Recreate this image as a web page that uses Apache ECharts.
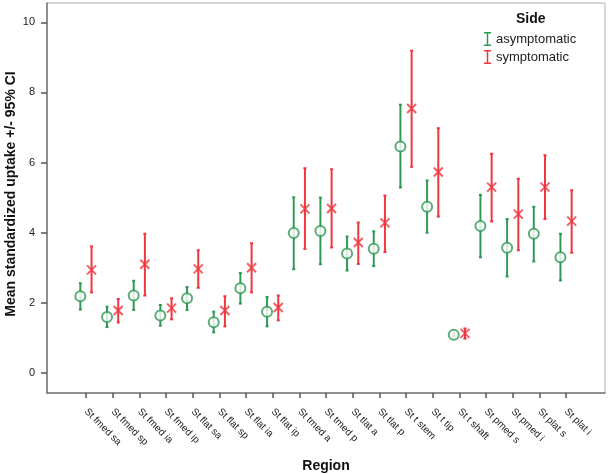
<!DOCTYPE html>
<html><head><meta charset="utf-8">
<script src="https://cdn.jsdelivr.net/npm/echarts@6/dist/echarts.min.js"></script>
<style>html,body{margin:0;padding:0;background:#fff}#c{width:609px;height:474px}</style>
</head><body><div id="c"></div>
<script>
var categories = ["St fmed sa","St fmed sp","St fmed ia","St fmed ip","St flat sa","St flat sp","St flat ia","St flat ip","St tmed a","St tmed p","St tlat a","St tlat p","St t stem","St t tip","St t shaft","St pmed s","St pmed i","St plat s","St plat i"];
var asymMean = [2.19,1.60,2.21,1.64,2.13,1.45,2.42,1.75,3.99,4.05,3.41,3.54,6.46,4.74,1.09,4.19,3.57,3.97,3.30];
var asymLow  = [1.81,1.31,1.80,1.35,1.80,1.16,1.98,1.33,2.96,3.10,2.92,3.05,5.29,4.00,1.05,3.30,2.75,3.18,2.64];
var asymHigh = [2.56,1.89,2.63,1.94,2.45,1.75,2.85,2.17,5.01,5.00,3.89,4.04,7.65,5.49,1.13,5.08,4.39,4.74,3.97];
var symMean  = [2.94,1.78,3.10,1.85,2.97,1.78,3.00,1.87,4.68,4.69,3.72,4.28,7.54,5.73,1.13,5.30,4.53,5.30,4.33];
var symLow   = [2.30,1.44,2.21,1.53,2.43,1.33,2.30,1.50,3.54,3.58,3.11,3.45,5.88,4.46,0.98,4.32,3.50,4.39,3.43];
var symHigh  = [3.61,2.11,3.97,2.13,3.50,2.19,3.70,2.21,5.84,5.81,4.29,5.06,9.19,6.98,1.27,6.25,5.54,6.21,5.21];
var yTicks = [0,2,4,6,8,10];
var yTitle = 'Mean standardized uptake +/- 95% CI';

var GREEN = '#2f9a55', RED = '#f0363f';
var OFF = 0.21;
function idx(){ return categories.map(function(_,i){return i;}); }
function errData(low, high, off){ return categories.map(function(_,i){ return [i+off, low[i], high[i]]; }); }
function meanData(m, off){ return categories.map(function(_,i){ return [i+off, m[i]]; }); }
function errRender(color){
  return function(params, api){
    var x = api.value(0);
    var lo = api.coord([x, api.value(1)]);
    var hi = api.coord([x, api.value(2)]);
    var w = 1.5;
    var st = {stroke: color, lineWidth: 2};
    return {type:'group', children:[
      {type:'line', shape:{x1:lo[0],y1:lo[1],x2:hi[0],y2:hi[1]}, style:st},
      {type:'line', shape:{x1:lo[0]-w,y1:lo[1],x2:lo[0]+w,y2:lo[1]}, style:st},
      {type:'line', shape:{x1:hi[0]-w,y1:hi[1],x2:hi[0]+w,y2:hi[1]}, style:st}
    ]};
  };
}
var iconPath = 'path://M0,0h7v1.5h-2.75v11h2.75v1.5h-7v-1.5h2.75v-11h-2.75z';
var chart = echarts.init(document.getElementById('c'));
chart.setOption({
  animation:false,
  textStyle:{fontFamily:'Liberation Sans, Arial, sans-serif'},
  title:{text:'Side', left:511, top:7, textStyle:{fontSize:14, fontWeight:'bold', color:'#111'}},
  legend:{orient:'vertical', left:479, top:27, itemWidth:7, itemHeight:14, itemGap:4,
    textStyle:{fontSize:13, color:'#222'},
    data:[{name:'asymptomatic', icon:iconPath},{name:'symptomatic', icon:iconPath}]},
  graphic:[{type:'text', x:11, y:194, rotation:Math.PI/2,
    style:{text:yTitle, align:'center', verticalAlign:'middle', fill:'#111',
      font:'bold 14px "Liberation Sans", Arial, sans-serif'}}],
  grid:{left:47, right:4, top:3, bottom:81, show:true, borderColor:'#b0b0b0', borderWidth:1,
    containLabel:false, outerBoundsMode:'none'},
  xAxis:{type:'value', min:-1.46, max:19.46,
    name:'Region', nameLocation:'middle', nameGap:66, nameMoveOverlap:false,
    nameTextStyle:{fontSize:14, fontWeight:'bold', color:'#111'},
    axisLine:{onZero:false, lineStyle:{color:'#777', width:1.5}},
    axisTick:{customValues: idx(), length:5, lineStyle:{color:'#555', width:1.5}},
    axisLabel:{customValues: idx(), rotate:-45, fontSize:10, color:'#222', margin:17,
      formatter:function(v){ return categories[Math.round(v)]; }},
    splitLine:{show:false}},
  yAxis:{type:'value', min:-0.57, max:10.55,
    axisLine:{show:true, onZero:false, lineStyle:{color:'#777', width:1.5}},
    axisTick:{show:true, customValues: yTicks, length:6, lineStyle:{color:'#555', width:1.5}},
    axisLabel:{customValues: yTicks, fontSize:11, color:'#222', margin:12},
    splitLine:{show:false}},
  series:[
    {type:'custom', name:'asymptomatic', renderItem: errRender(GREEN), itemStyle:{color:GREEN},
      encode:{x:0, y:[1,2]}, data: errData(asymLow, asymHigh, -OFF), z:2},
    {type:'custom', name:'symptomatic', renderItem: errRender(RED), itemStyle:{color:RED},
      encode:{x:0, y:[1,2]}, data: errData(symLow, symHigh, OFF), z:2},
    {type:'scatter', name:'asymptomatic', symbol:'circle', symbolSize:10,
      itemStyle:{color:'#fff', borderColor:GREEN, borderWidth:2}, data: meanData(asymMean, -OFF), z:3},
    {type:'scatter', name:'symptomatic', symbol:'path://M0,0L10,10M10,0L0,10', symbolSize:9,
      itemStyle:{color:'none', borderColor:RED, borderWidth:2}, data: meanData(symMean, OFF), z:3}
  ]
});
</script></body></html>
